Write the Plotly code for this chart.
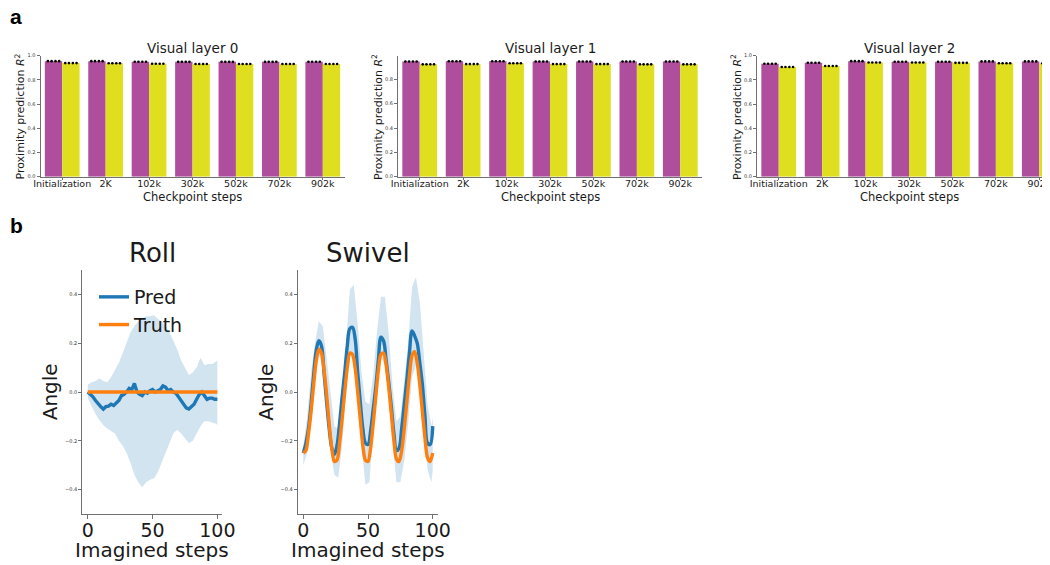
import plotly.graph_objects as go

W, H = 1050, 565          # target picture size
OFF = 8                   # the page places the figure 8px from the top-left corner
FW, FH = W - OFF, H - OFF  # figure size so that it ends exactly at the window edge

# ---------------- data: panel a ----------------
checkpoints = ["Initialization", "2K", "102k", "302k", "502k", "702k", "902k"]
layer_titles = ["Visual layer 0", "Visual layer 1", "Visual layer 2"]

layer0_magenta = [0.955, 0.955, 0.950, 0.949, 0.949, 0.949, 0.950]
layer0_yellow = [0.939, 0.938, 0.934, 0.932, 0.932, 0.932, 0.932]
layer1_magenta = [0.946, 0.948, 0.948, 0.946, 0.946, 0.946, 0.946]
layer1_yellow = [0.923, 0.925, 0.932, 0.925, 0.925, 0.923, 0.923]
layer2_magenta = [0.934, 0.942, 0.955, 0.950, 0.950, 0.953, 0.953]
layer2_yellow = [0.907, 0.915, 0.944, 0.944, 0.941, 0.938, 0.938]

y_tick_vals_a = [0.0, 0.2, 0.4, 0.6, 0.8, 1.0]

# ---------------- data: panel b ----------------
line_steps = list(range(0, 101, 2))
roll_pred = [0.0, -0.01, -0.02, -0.035, -0.05, -0.06, -0.07, -0.06, -0.058, -0.05,
             -0.055, -0.045, -0.035, -0.015, -0.01, 0.0, 0.015, 0.01, 0.035, 0.0,
             -0.01, -0.015, 0.0, -0.005, 0.005, 0.01, 0.0, 0.005, 0.01, 0.025,
             0.02, 0.005, 0.01, 0.0, -0.005, -0.02, -0.035, -0.055, -0.065, -0.07,
             -0.06, -0.05, -0.03, -0.01, 0.0, -0.015, -0.03, -0.025, -0.025, -0.03,
             -0.03]
roll_truth_steps = [0, 100]
roll_truth = [0.0, 0.0]

swivel_pred = [-0.25, -0.21, -0.15, -0.05, 0.07, 0.17, 0.21, 0.19, 0.08, -0.04,
               -0.15, -0.23, -0.255, -0.22, -0.13, -0.02, 0.08, 0.19, 0.26, 0.265,
               0.22, 0.08, -0.04, -0.15, -0.21, -0.215, -0.16, -0.07, 0.02, 0.13,
               0.225, 0.21, 0.13, 0.04, -0.06, -0.17, -0.24, -0.23, -0.15, -0.05,
               0.05, 0.16, 0.25, 0.23, 0.20, 0.12, 0.03, -0.10, -0.21, -0.215,
               -0.14]
swivel_truth = [-0.25, -0.24, -0.17, -0.08, 0.03, 0.13, 0.175, 0.16, 0.09, -0.01,
                -0.13, -0.23, -0.285, -0.28, -0.21, -0.11, 0.0, 0.10, 0.16, 0.155,
                0.10, 0.0, -0.11, -0.22, -0.28, -0.285, -0.23, -0.13, -0.02, 0.09,
                0.155, 0.16, 0.11, 0.02, -0.09, -0.20, -0.275, -0.285, -0.24, -0.15,
                -0.04, 0.07, 0.15, 0.165, 0.12, 0.03, -0.08, -0.19, -0.27, -0.285,
                -0.25]

band_steps = [0, 3, 6, 9, 12, 15, 18, 21, 24, 27, 30, 33, 36, 39, 42, 45, 48, 51,
              54, 57, 60, 63, 66, 69, 72, 75, 78, 81, 84, 87, 90, 93, 96, 99, 100]
roll_upper = [0.03, 0.04, 0.045, 0.055, 0.045, 0.04, 0.06, 0.09, 0.12, 0.16, 0.20,
              0.245, 0.27, 0.29, 0.30, 0.31, 0.31, 0.315, 0.30, 0.29, 0.27, 0.245,
              0.21, 0.175, 0.13, 0.10, 0.07, 0.08, 0.10, 0.14, 0.11, 0.115, 0.115,
              0.125, 0.13]
roll_lower = [-0.025, -0.06, -0.09, -0.115, -0.135, -0.15, -0.16, -0.17, -0.20,
              -0.22, -0.25, -0.29, -0.34, -0.37, -0.39, -0.37, -0.36, -0.355, -0.33,
              -0.29, -0.25, -0.215, -0.17, -0.155, -0.17, -0.19, -0.21, -0.20, -0.17,
              -0.14, -0.12, -0.12, -0.125, -0.13, -0.135]
swivel_upper = [-0.22, -0.10, 0.08, 0.20, 0.29, 0.27, 0.14, 0.0, -0.14, -0.15, -0.03,
                0.20, 0.42, 0.44, 0.28, 0.08, -0.04, -0.05, 0.07, 0.25, 0.39, 0.39,
                0.24, 0.02, -0.12, -0.10, 0.05, 0.20, 0.43, 0.47, 0.37, 0.16, -0.05,
                -0.14, -0.10]
swivel_lower = [-0.30, -0.25, -0.14, 0.03, 0.15, 0.11, -0.08, -0.24, -0.34, -0.35,
                -0.22, 0.0, 0.15, 0.12, -0.06, -0.23, -0.38, -0.37, -0.17, -0.02,
                0.14, 0.11, 0.0, -0.21, -0.37, -0.37, -0.28, -0.13, 0.06, 0.11, 0.05,
                -0.12, -0.32, -0.37, -0.32]

y_tick_vals_b = [-0.4, -0.2, 0.0, 0.2, 0.4]
y_tick_text_b = ["\u22120.4", "\u22120.2", "0.0", "0.2", "0.4"]
x_tick_vals_b = [0, 50, 100]

# ---------------- styles ----------------
MAGENTA = "#AE4E9C"
YELLOW = "#DFDF20"
BLUE = "#1f77b4"
ORANGE = "#ff7f0e"
BAND = "rgba(31,119,180,0.2)"
AX = "#707070"
TXT = "#1a1a1a"
FONT = "DejaVu Sans"


def fx(p):
    """page pixel x -> paper fraction"""
    return (p - OFF) / FW


def fy(p):
    """page pixel y -> paper fraction"""
    return 1 - (p - OFF) / FH


fig = go.Figure()

# ---------------- panel a ----------------
a_mag = [layer0_magenta, layer1_magenta, layer2_magenta]
a_yel = [layer0_yellow, layer1_yellow, layer2_yellow]
a_left = [40.5, 398.0, 757.0]
a_unit = 304.0 / 7.0
a_top, a_bot = 55.7, 176.7
a_ymax = [1.0, 0.994, 1.0]
dot_offsets = [-0.13, -0.045, 0.045, 0.13]

idx = list(range(len(checkpoints)))
for k in range(3):
    xa = "x" if k == 0 else f"x{k + 1}"
    ya = "y" if k == 0 else f"y{k + 1}"
    fig.add_trace(go.Bar(x=idx, y=a_mag[k], width=0.4, offset=-0.4,
                         marker=dict(color=MAGENTA, line=dict(width=0)),
                         xaxis=xa, yaxis=ya, showlegend=False))
    fig.add_trace(go.Bar(x=idx, y=a_yel[k], width=0.4, offset=0.0,
                         marker=dict(color=YELLOW, line=dict(width=0)),
                         xaxis=xa, yaxis=ya, showlegend=False))
    for vals, shift in ((a_mag[k], -0.2), (a_yel[k], 0.2)):
        dx, dy = [], []
        for i, v in zip(idx, vals):
            for d in dot_offsets:
                dx.append(i + shift + d)
                dy.append(v)
        fig.add_trace(go.Scatter(x=dx, y=dy, mode="markers",
                                 marker=dict(color="black", size=2.6),
                                 xaxis=xa, yaxis=ya, showlegend=False,
                                 cliponaxis=True))

# ---------------- panel b ----------------
b_specs = [
    ("x4", "y4", roll_upper, roll_lower, line_steps, roll_pred, roll_truth_steps, roll_truth, True, "linear"),
    ("x5", "y5", swivel_upper, swivel_lower, line_steps, swivel_pred, line_steps, swivel_truth, False, "spline"),
]
for xa, ya, up, lo, ps, pv, ts, tv, leg, shp in b_specs:
    fig.add_trace(go.Scatter(x=band_steps, y=lo, mode="lines", line=dict(width=0),
                             xaxis=xa, yaxis=ya, showlegend=False, hoverinfo="skip"))
    fig.add_trace(go.Scatter(x=band_steps, y=up, mode="lines", line=dict(width=0),
                             fill="tonexty", fillcolor=BAND,
                             xaxis=xa, yaxis=ya, showlegend=False, hoverinfo="skip"))
    fig.add_trace(go.Scatter(x=ps, y=pv, mode="lines", name="Pred",
                             line=dict(color=BLUE, width=3.4, shape=shp),
                             xaxis=xa, yaxis=ya, showlegend=leg))
    fig.add_trace(go.Scatter(x=ts, y=tv, mode="lines", name="Truth",
                             line=dict(color=ORANGE, width=3.4, shape="spline", smoothing=0.8),
                             xaxis=xa, yaxis=ya, showlegend=leg))

layout = dict(
    template="none",
    width=FW, height=FH,
    autosize=False,
    margin=dict(l=0, r=0, t=0, b=0, pad=0, autoexpand=False),
    paper_bgcolor="white", plot_bgcolor="white",
    font=dict(family=FONT, color=TXT),
    barmode="overlay",
    showlegend=True,
    legend=dict(x=fx(94), y=fy(278), xanchor="left", yanchor="top",
                bgcolor="rgba(0,0,0,0)", borderwidth=0, traceorder="normal",
                font=dict(size=19, family=FONT, color=TXT),
                tracegroupgap=0, itemwidth=30),
)

annotations = []
for k in range(3):
    sx = "" if k == 0 else str(k + 1)
    left = a_left[k]
    right = left + 304.0
    d0 = fx(left)
    d1 = min(1.0, fx(right))
    xmax = -0.5 + (OFF + d1 * FW - left) / a_unit
    layout["xaxis" + sx] = dict(
        domain=[d0, d1], range=[-0.5, xmax], anchor="y" + sx, automargin=False,
        showline=True, linecolor=AX, linewidth=1, mirror=False,
        ticks="outside", ticklen=2, tickcolor=AX, tickwidth=0.8,
        tickvals=idx, ticktext=checkpoints, ticklabelstandoff=-4,
        ticklabeloverflow="allow",
        tickfont=dict(size=9.5, family=FONT, color=TXT),
        showgrid=False, zeroline=False, fixedrange=True)
    layout["yaxis" + sx] = dict(
        domain=[fy(a_bot), fy(a_top)], range=[0, a_ymax[k]], anchor="x" + sx, automargin=False,
        showline=True, linecolor=AX, linewidth=1, mirror=False,
        ticks="outside", ticklen=3, tickcolor=AX, tickwidth=0.8,
        tickvals=y_tick_vals_a, tickformat=".1f",
        tickfont=dict(size=5, family=FONT, color="#333"),
        showgrid=False, zeroline=False, fixedrange=True)
    cx = left + 152.0
    annotations.append(dict(text=layer_titles[k], x=fx(cx), y=fy(48), xref="paper", yref="paper",
                            xanchor="center", yanchor="middle", showarrow=False,
                            font=dict(size=13.5, family=FONT, color=TXT)))
    annotations.append(dict(text="Checkpoint steps", x=fx(cx), y=fy(196.5), xref="paper", yref="paper",
                            xanchor="center", yanchor="middle", showarrow=False,
                            font=dict(size=11.5, family=FONT, color=TXT)))
    annotations.append(dict(text="Proximity prediction <i>R</i><sup>2</sup>", x=fx(left - 20), y=fy(117),
                            xref="paper", yref="paper", textangle=-90,
                            xanchor="center", yanchor="middle", showarrow=False,
                            font=dict(size=11, family=FONT, color=TXT)))

b_axes = [("4", 82.3, 222.3, -4.2, 103.8, "Roll"), ("5", 297.7, 438.3, -4.33, 104.3, "Swivel")]
b_top, b_bot = 270.0, 514.0
for sx, l, r, x0, x1, title in b_axes:
    layout["xaxis" + sx] = dict(
        domain=[fx(l), fx(r)], range=[x0, x1], anchor="y" + sx, automargin=False,
        showline=True, linecolor=AX, linewidth=1, mirror=False,
        ticks="outside", ticklen=3.5, tickcolor=AX, tickwidth=0.8,
        tickvals=x_tick_vals_b, ticklabelstandoff=-4,
        tickfont=dict(size=19, family=FONT, color=TXT),
        showgrid=False, zeroline=False, fixedrange=True)
    layout["yaxis" + sx] = dict(
        domain=[fy(b_bot), fy(b_top)], range=[-0.5, 0.5], anchor="x" + sx, automargin=False,
        showline=True, linecolor=AX, linewidth=1, mirror=False,
        ticks="outside", ticklen=3, tickcolor=AX, tickwidth=0.8,
        tickvals=y_tick_vals_b, ticktext=y_tick_text_b,
        tickfont=dict(size=5, family=FONT, color="#333"),
        showgrid=False, zeroline=False, fixedrange=True)
    cx = (l + r) / 2
    annotations.append(dict(text=title, x=fx(cx), y=fy(253), xref="paper", yref="paper",
                            xanchor="center", yanchor="middle", showarrow=False,
                            font=dict(size=26, family=FONT, color=TXT)))
    annotations.append(dict(text="Imagined steps", x=fx(cx), y=fy(550), xref="paper", yref="paper",
                            xanchor="center", yanchor="middle", showarrow=False,
                            font=dict(size=20, family=FONT, color=TXT)))
    annotations.append(dict(text="Angle", x=fx(l - 32), y=fy(392), xref="paper", yref="paper",
                            textangle=-90, xanchor="center", yanchor="middle", showarrow=False,
                            font=dict(size=20, family=FONT, color=TXT)))

for lab, px, py in (("a", 16, 17), ("b", 16, 226)):
    annotations.append(dict(text="<b>" + lab + "</b>", x=fx(px), y=fy(py), xref="paper", yref="paper",
                            xanchor="center", yanchor="middle", showarrow=False,
                            font=dict(size=21, family="Liberation Sans", color="black")))

layout["annotations"] = annotations
fig.update_layout(**layout)
fig.write_html("out.html")
